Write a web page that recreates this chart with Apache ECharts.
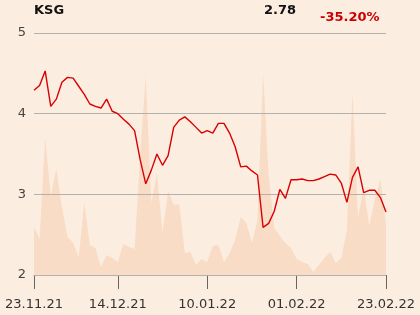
<!DOCTYPE html>
<html><head><meta charset="utf-8">
<script src="https://cdn.jsdelivr.net/npm/echarts@6/dist/echarts.min.js"></script>
<style>html,body{margin:0;padding:0;background:#FCEDE1;}#c{width:420px;height:315px;}</style>
</head><body><div id="c"></div>
<script>
var dates = ["23.11.21","24.11.21","25.11.21","26.11.21","29.11.21","30.11.21","01.12.21","02.12.21","03.12.21","06.12.21",
"07.12.21","08.12.21","09.12.21","10.12.21","13.12.21","14.12.21","15.12.21","16.12.21","17.12.21","20.12.21",
"21.12.21","22.12.21","23.12.21","27.12.21","28.12.21","29.12.21","30.12.21","03.01.22","04.01.22","05.01.22",
"07.01.22","10.01.22","11.01.22","12.01.22","13.01.22","14.01.22","17.01.22","18.01.22","19.01.22","20.01.22",
"21.01.22","24.01.22","25.01.22","26.01.22","27.01.22","28.01.22","31.01.22","01.02.22","02.02.22","03.02.22",
"04.02.22","07.02.22","08.02.22","09.02.22","10.02.22","11.02.22","14.02.22","15.02.22","16.02.22","17.02.22",
"18.02.22","21.02.22","22.02.22","23.02.22"];
var prices = [4.29,4.35,4.53,4.09,4.18,4.39,4.45,4.44,4.34,4.24,
4.12,4.09,4.07,4.18,4.03,4.00,3.93,3.87,3.79,3.43,
3.13,3.30,3.50,3.36,3.48,3.83,3.92,3.96,3.90,3.83,
3.76,3.79,3.76,3.88,3.88,3.76,3.59,3.34,3.35,3.29,
3.24,2.59,2.64,2.79,3.06,2.95,3.18,3.18,3.19,3.17,
3.17,3.19,3.22,3.25,3.24,3.14,2.90,3.21,3.34,3.02,
3.05,3.05,2.96,2.78];
var volumes = [48,36,138,79,106,68,38,32,18,72,
30,27,8,20,17,13,31,28,26,120,
199,72,102,42,84,70,71,22,23,10,
16,13,29,30,13,22,35,58,52,32,
55,202,100,47,39,32,27,16,13,11,
3,10,17,23,12,17,45,183,57,88,
49,75,96,50];
var yTicks = [2,3,4,5];
var tickIdx = [0,15,31,47,63];
var title = "KSG", lastPrice = "2.78", change = "-35.20%";

var chart = echarts.init(document.getElementById('c'), null, {renderer:'canvas'});
var FONT = 'DejaVu Sans';
chart.setOption({
  backgroundColor: '#FCEDE1',
  animation: false,
  grid: {left:34, right:34, top:33, bottom:40},
  xAxis: {
    type:'category', data: dates, boundaryGap:false,
    axisLine:{lineStyle:{color:'#888', width:1}},
    axisTick:{show:true, length:14, lineStyle:{color:'#666'}, interval:function(i){return tickIdx.indexOf(i)>=0;}},
    axisLabel:{interval:function(i){return tickIdx.indexOf(i)>=0;}, color:'#333', fontFamily:FONT, fontSize:13, margin:23},
    splitLine:{show:false}
  },
  yAxis: [{
    type:'value', min:yTicks[0], max:yTicks[yTicks.length-1], interval:1, z:2,
    axisLine:{show:false}, axisTick:{show:false},
    axisLabel:{color:'#444', fontFamily:FONT, fontSize:13, margin:8},
    splitLine:{lineStyle:{color:'#B4B0AC', width:1}}
  },{
    type:'value', min:0, max:242, show:false, splitLine:{show:false}
  }],
  series: [{
    type:'line', yAxisIndex:1, data: volumes, symbol:'none', z:1,
    lineStyle:{width:0}, areaStyle:{color:'#F8DCC6', opacity:1}
  },{
    type:'line', yAxisIndex:0, data: prices, symbol:'none', z:3,
    lineStyle:{color:'#D90000', width:1.4}
  }],
  graphic: [
    {type:'text', left:34, top:4, style:{text:title, font:'bold 13px "DejaVu Sans"', fill:'#111'}},
    {type:'text', left:264, top:4, style:{text:lastPrice, font:'bold 13px "DejaVu Sans"', fill:'#111'}},
    {type:'text', left:320, top:11, style:{text:change, font:'bold 13px "DejaVu Sans"', fill:'#CC0000'}}
  ]
});
</script></body></html>
